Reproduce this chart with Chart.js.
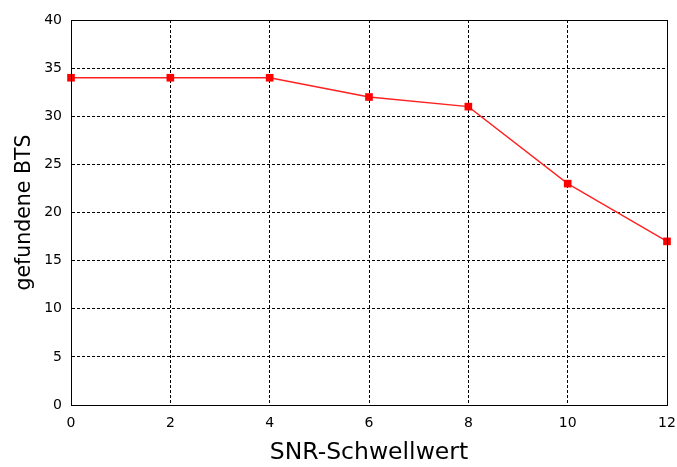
<!DOCTYPE html>
<html>
<head>
<meta charset="utf-8">
<script src="https://cdn.jsdelivr.net/npm/chart.js@4"></script>
<style>
html,body{margin:0;padding:0;background:#fff;}
#wrap{width:677px;height:467px;}
</style>
</head>
<body>
<div id="wrap"><canvas id="c" width="677" height="467"></canvas></div>
<script>
const xValues = [0, 2, 4, 6, 8, 10, 12];
const yValues = [34, 34, 34, 32, 31, 23, 17];
const xTitle = "SNR-Schwellwert";
const yTitle = "gefundene BTS";

const boxPlugin = {
  id: 'box',
  afterDatasetsDraw(chart) {
    const {ctx, chartArea: a} = chart;
    ctx.save();
    ctx.strokeStyle = '#000';
    ctx.lineWidth = 1;
    ctx.setLineDash([]);
    ctx.strokeRect(Math.round(a.left) + 0.5, Math.round(a.top) + 0.5, Math.round(a.right - a.left), Math.round(a.bottom - a.top));
    ctx.restore();
  }
};

new Chart(document.getElementById('c'), {
  type: 'line',
  data: {
    datasets: [{
      data: xValues.map((x, i) => ({x: x, y: yValues[i]})),
      borderColor: '#ff2020',
      backgroundColor: '#ff0000',
      borderWidth: 1.3,
      pointStyle: 'rect',
      pointRadius: 5.4,
      pointHoverRadius: 5.4,
      pointBorderWidth: 0,
      tension: 0,
      clip: false
    }]
  },
  options: {
    responsive: false,
    animation: false,
    layout: {padding: {top: 20, right: 10, left: 0, bottom: 0}},
    plugins: {legend: {display: false}, tooltip: {enabled: false}},
    scales: {
      x: {
        type: 'linear', min: 0, max: 12,
        ticks: {stepSize: 2, color: '#000', padding: 10, font: {family: 'DejaVu Sans', size: 14}},
        grid: {color: '#000', lineWidth: 1, drawTicks: false},
        border: {display: true, color: '#000', dash: [3, 2]},
        title: {display: true, text: xTitle, color: '#000', font: {family: 'DejaVu Sans', size: 23.5}, padding: {top: 8, bottom: 0}},
        afterFit(s) { s.height = 62; s.paddingLeft = 0; s.paddingRight = 0; }
      },
      y: {
        type: 'linear', min: 0, max: 40,
        ticks: {stepSize: 5, color: '#000', padding: 9, font: {family: 'DejaVu Sans', size: 14}},
        grid: {color: '#000', lineWidth: 1, drawTicks: false},
        border: {display: true, color: '#000', dash: [3, 2]},
        title: {display: true, text: yTitle, color: '#000', font: {family: 'DejaVu Sans', size: 20.5}, padding: {top: 12, bottom: 0}},
        afterFit(s) { s.width = 71; s.paddingTop = 0; s.paddingBottom = 0; }
      }
    }
  },
  plugins: [boxPlugin]
});
</script>
</body>
</html>
